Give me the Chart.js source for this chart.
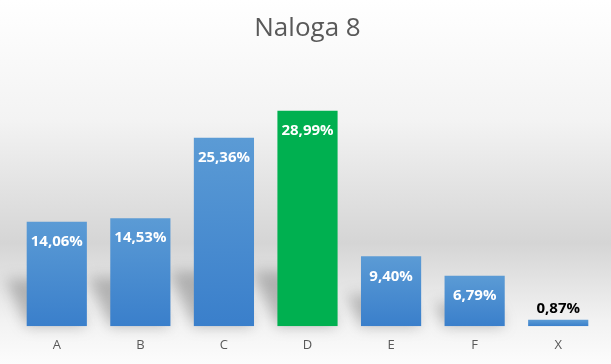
<!DOCTYPE html>
<html>
<head>
<meta charset="utf-8">
<script src="https://cdn.jsdelivr.net/npm/chart.js@4.4.1/dist/chart.umd.min.js"></script>
<style>
  html, body { margin: 0; padding: 0; }
  body {
    width: 611px; height: 364px; overflow: hidden;
    background: linear-gradient(to bottom, #ffffff 0px, #f3f3f3 120px, #d5d5d5 243px, #f2f2f2 320px, #fcfcfc 364px);
  }
  #wrap { position: relative; width: 611px; height: 364px; }
</style>
</head>
<body>
<div id="wrap"><canvas id="chartBar"></canvas></div>
<script>
  // podatki
  const kategorije = ['A', 'B', 'C', 'D', 'E', 'F', 'X'];
  const odstotki = [14.06, 14.53, 25.36, 28.99, 9.40, 6.79, 0.87];
  const pravilni = 'D';

  function barvaStolpca(context) {
    const chart = context.chart;
    if (kategorije[context.dataIndex] === pravilni) return '#00b050';
    if (!chart.chartArea) return '#4a8fd2';
    const y = chart.scales.y;
    const top = y.getPixelForValue(context.raw);
    const bottom = y.getPixelForValue(0);
    const g = chart.ctx.createLinearGradient(0, top, 0, Math.max(bottom, top + 1));
    g.addColorStop(0, '#5b9bd5');
    g.addColorStop(1, '#3a7fcb');
    return g;
  }

  // senca za stolpci
  const sencaPlugin = {
    id: 'senca',
    beforeDatasetsDraw(chart) {
      const ctx = chart.ctx;
      const meta = chart.getDatasetMeta(0);
      ctx.save();
      ctx.filter = 'blur(7px)';
      ctx.fillStyle = 'rgba(90,90,90,0.38)';
      meta.data.forEach(bar => {
        const h = bar.base - bar.y;
        if (h < 10) return;
        const sh = Math.min(h * 0.45, 55);
        const dx = sh * 0.45;
        const x0 = bar.x - bar.width / 2, x1 = bar.x + bar.width / 2;
        ctx.beginPath();
        ctx.moveTo(x0, bar.base);
        ctx.lineTo(x1, bar.base);
        ctx.lineTo(x1 - dx, bar.base - sh);
        ctx.lineTo(x0 - dx, bar.base - sh);
        ctx.closePath();
        ctx.fill();
      });
      ctx.restore();
    }
  };

  const oznakePlugin = {
    id: 'oznake',
    afterDatasetsDraw(chart) {
      const ctx = chart.ctx;
      const meta = chart.getDatasetMeta(0);
      ctx.save();
      ctx.font = 'bold 15px "Open Sans"';
      ctx.textAlign = 'center';
      ctx.textBaseline = 'middle';
      meta.data.forEach((bar, i) => {
        const txt = odstotki[i].toFixed(2).replace('.', ',') + '%';
        const h = bar.base - bar.y;
        if (h > 30) {
          ctx.fillStyle = '#ffffff';
          ctx.fillText(txt, bar.x, bar.y + 20);
        } else {
          ctx.fillStyle = '#000000';
          ctx.fillText(txt, bar.x, bar.y - 11);
        }
      });
      ctx.restore();
    }
  };

  const ctxBar = document.getElementById('chartBar');
  new Chart(ctxBar, {
    type: 'bar',
    data: {
      labels: kategorije,
      datasets: [{
        label: 'Naloga 8',
        data: odstotki,
        backgroundColor: barvaStolpca,
        borderWidth: 0,
        barPercentage: 0.72,
        categoryPercentage: 1
      }]
    },
    options: {
      responsive: true,
      maintainAspectRatio: false,
      animation: false,
      layout: {
        padding: { left: 15, right: 11, top: 0, bottom: 0 }
      },
      plugins: {
        title: {
          display: true,
          text: 'Naloga 8',
          color: '#595959',
          font: { family: 'Open Sans', size: 26, weight: 'normal' },
          padding: { top: 13, bottom: 59 }
        },
        legend: { display: false },
        tooltip: { enabled: false }
      },
      scales: {
        x: {
          grid: { display: false, drawTicks: false },
          border: { display: false },
          ticks: {
            color: '#595959',
            font: { family: 'Open Sans', size: 13, lineHeight: 0.6 },
            padding: 15
          }
        },
        y: {
          display: false,
          min: 0,
          max: 30
        }
      }
    },
    plugins: [sencaPlugin, oznakePlugin]
  });
</script>
</body>
</html>
